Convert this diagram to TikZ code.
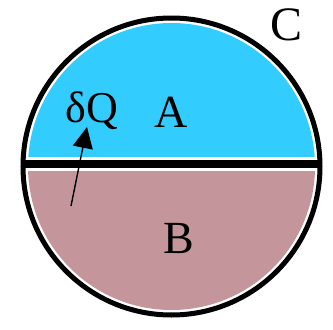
\documentclass[tikz,border=0pt]{standalone}
\usepackage{fontspec}
\setmainfont{Liberation Serif}
\usepackage{tikz}
\usetikzlibrary{arrows.meta}
\definecolor{partA}{HTML}{33CCFF}
\definecolor{partB}{HTML}{C4969C}

\begin{document}
\begin{tikzpicture}[x=1pt,y=-1pt,
  rim/.style={draw=black, line width=5pt},
  wall/.style={draw=black, line width=7.5pt},
  lbl/.style={inner sep=0pt, text=black},
  flux/.style={-{Triangle[length=21pt,width=20pt]}, line width=1.4pt}]
  \useasboundingbox (0,0) rectangle (333,330);
  % the two parts
  \begin{scope}
    \clip (0,0) rectangle (333,156);
    \fill[partA] (171.5,166.5) circle[radius=143.5];
  \end{scope}
  \begin{scope}
    \clip (0,171) rectangle (333,330);
    \fill[partB] (171.5,166.5) circle[radius=143.5];
  \end{scope}
  % container and dividing wall
  \draw[rim] (171.5,166.5) circle[radius=148.5];
  \coordinate (wl) at (21,164);
  \coordinate (wr) at (322,164);
  \draw[wall] (wl) -- (wr);
  % labels
  \node[lbl, font=\fontsize{48}{48}\selectfont] (C) at (287,25) {C};
  \node[lbl, font=\fontsize{46}{46}\selectfont] (A) at (171,112) {A};
  \node[lbl, font=\fontsize{46}{46}\selectfont] (B) at (179,239) {B};
  \node[lbl, font=\fontsize{44}{44}\selectfont] (dQ) at (92,111) {δQ};
  % heat flow
  \coordinate (tail) at (71,206);
  \coordinate (tip) at (87,127);
  \draw[flux] (tail) -- (tip);
\end{tikzpicture}
\end{document}
